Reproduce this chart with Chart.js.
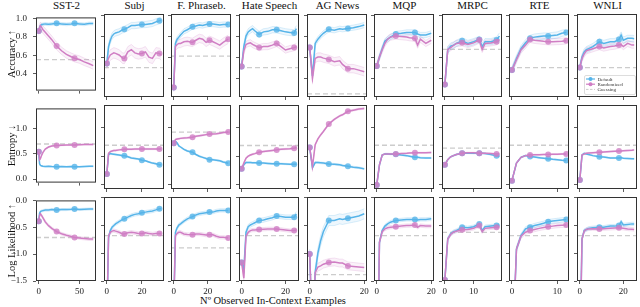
<!DOCTYPE html>
<html lang="en">
<head>
<meta charset="utf-8">
<title>In-context examples</title>
<script src="https://cdn.jsdelivr.net/npm/chart.js@4.4.1/dist/chart.umd.min.js"></script>
<style>
  html, body { margin: 0; padding: 0; background: #fff; }
  #figure { position: relative; width: 640px; height: 307px; overflow: hidden;
            font-family: "Liberation Serif", "DejaVu Serif", serif; color: #111; }
  #figure canvas { position: absolute; }
  .colTitle { position: absolute; top: -1px; height: 13px; line-height: 13px; font-size: 11px;
              text-align: center; white-space: nowrap; }
  #xLabel { position: absolute; left: 173px; width: 200px; top: 295px; font-size: 10.5px;
            text-align: center; white-space: nowrap; }
</style>
</head>
<body>
<div id="figure"></div>
<script>
// ---- Données ----
const A_titles = ["SST-2", "Subj", "F. Phraseb.", "Hate Speech", "AG News", "MQP", "MRPC", "RTE", "WNLI"];
const A_rowLabels = ["Accuracy ↑", "Entropy ↓", "Log Likelihood ↑"];
const A_yTicks = [[0.4, 0.6, 0.8, 1.0], [0, 0.5, 1.0], [-1.5, -1.0, -0.5, 0.0]];
const A_xTicks = [[0, 50], [0, 20], [0, 20], [0, 20], [0, 20], [0, 20], [0, 10], [0, 10], [0, 20]];

// SST-2
const A_sst2X = [0, 1, 2, 3, 5, 8, 12, 16, 22, 28, 34, 40, 44, 50, 56, 62, 67];
const A_sst2AccDef = [0.864, 0.90, 0.92, 0.93, 0.935, 0.94, 0.935, 0.94, 0.946, 0.94, 0.935, 0.94, 0.946, 0.94, 0.935, 0.945, 0.943];
const A_sst2AccRnd = [0.864, 0.90, 0.92, 0.91, 0.88, 0.85, 0.81, 0.77, 0.70, 0.65, 0.61, 0.585, 0.57, 0.555, 0.53, 0.51, 0.49];
const A_sst2EntDef = [0.535, 0.30, 0.27, 0.26, 0.25, 0.245, 0.25, 0.245, 0.24, 0.245, 0.24, 0.245, 0.24, 0.24, 0.245, 0.25, 0.25];
const A_sst2EntRnd = [0.535, 0.38, 0.40, 0.45, 0.52, 0.59, 0.63, 0.65, 0.66, 0.665, 0.67, 0.67, 0.67, 0.675, 0.68, 0.68, 0.68];
const A_sst2LlDef = [-0.39, -0.24, -0.21, -0.20, -0.19, -0.18, -0.18, -0.17, -0.18, -0.17, -0.17, -0.165, -0.16, -0.17, -0.165, -0.16, -0.16];
const A_sst2LlRnd = [-0.39, -0.28, -0.25, -0.27, -0.32, -0.40, -0.47, -0.52, -0.58, -0.62, -0.65, -0.67, -0.69, -0.70, -0.71, -0.72, -0.72];

// Subj
const A_subjX = [0, 1, 2, 3, 4, 5, 7, 9, 10, 12, 14, 16, 18, 20, 22, 24, 26, 28, 30, 31];
const A_subjAccDef = [0.54, 0.70, 0.76, 0.80, 0.82, 0.83, 0.84, 0.86, 0.864, 0.88, 0.90, 0.90, 0.905, 0.91, 0.91, 0.915, 0.92, 0.935, 0.946, 0.95];
const A_subjAccRnd = [0.54, 0.59, 0.62, 0.63, 0.64, 0.635, 0.62, 0.59, 0.587, 0.65, 0.67, 0.64, 0.63, 0.635, 0.65, 0.60, 0.587, 0.64, 0.635, 0.62];
const A_subjEntDef = [0.19, 0.53, 0.545, 0.54, 0.535, 0.53, 0.52, 0.51, 0.51, 0.49, 0.47, 0.46, 0.45, 0.43, 0.42, 0.40, 0.38, 0.37, 0.35, 0.35];
const A_subjEntRnd = [0.19, 0.55, 0.58, 0.59, 0.60, 0.60, 0.61, 0.615, 0.62, 0.62, 0.62, 0.625, 0.625, 0.625, 0.625, 0.625, 0.625, 0.625, 0.625, 0.625];
const A_subjLlDef = [-2.2, -0.72, -0.60, -0.54, -0.51, -0.48, -0.44, -0.40, -0.39, -0.36, -0.33, -0.31, -0.30, -0.28, -0.27, -0.26, -0.25, -0.23, -0.21, -0.21];
const A_subjLlRnd = [-2.2, -0.70, -0.63, -0.61, -0.60, -0.61, -0.63, -0.66, -0.66, -0.64, -0.63, -0.64, -0.65, -0.65, -0.64, -0.65, -0.66, -0.65, -0.65, -0.65];

// F. Phrasebank
const A_fpX = [0, 1, 2, 3, 4, 6, 8, 11, 13, 15, 17, 19, 21, 23, 25, 27, 29, 32];
const A_fpAccDef = [0.31, 0.73, 0.77, 0.79, 0.81, 0.845, 0.86, 0.889, 0.895, 0.905, 0.90, 0.91, 0.914, 0.914, 0.91, 0.905, 0.91, 0.91];
const A_fpAccRnd = [0.31, 0.70, 0.72, 0.73, 0.73, 0.745, 0.75, 0.74, 0.76, 0.778, 0.77, 0.74, 0.76, 0.746, 0.73, 0.714, 0.74, 0.77];
const A_fpEntDef = [0.727, 0.76, 0.73, 0.68, 0.66, 0.62, 0.59, 0.57, 0.53, 0.50, 0.48, 0.46, 0.44, 0.44, 0.43, 0.42, 0.40, 0.378];
const A_fpEntRnd = [0.727, 0.79, 0.80, 0.805, 0.81, 0.815, 0.82, 0.83, 0.845, 0.855, 0.865, 0.875, 0.885, 0.885, 0.89, 0.90, 0.91, 0.92];
const A_fpLlDef = [-2.0, -0.63, -0.55, -0.50, -0.48, -0.43, -0.39, -0.35, -0.32, -0.30, -0.29, -0.28, -0.27, -0.27, -0.25, -0.24, -0.24, -0.24];
const A_fpLlRnd = [-2.0, -0.69, -0.65, -0.63, -0.63, -0.66, -0.67, -0.675, -0.66, -0.66, -0.67, -0.68, -0.675, -0.675, -0.70, -0.72, -0.72, -0.73];

// Hate Speech
const A_hateX = [0, 1, 2, 3, 4, 5, 6, 8, 10, 12, 14, 16, 18, 20, 22, 24, 25];
const A_hateAccDef = [0.51, 0.70, 0.80, 0.84, 0.857, 0.87, 0.85, 0.816, 0.84, 0.845, 0.86, 0.86, 0.85, 0.84, 0.835, 0.83, 0.87];
const A_hateAccRnd = [0.51, 0.66, 0.72, 0.73, 0.736, 0.72, 0.71, 0.69, 0.70, 0.70, 0.714, 0.73, 0.70, 0.667, 0.68, 0.69, 0.70];
const A_hateEntDef = [0.28, 0.35, 0.39, 0.39, 0.39, 0.385, 0.385, 0.38, 0.38, 0.375, 0.37, 0.37, 0.37, 0.365, 0.36, 0.36, 0.36];
const A_hateEntRnd = [0.28, 0.38, 0.466, 0.50, 0.52, 0.535, 0.545, 0.57, 0.58, 0.59, 0.60, 0.61, 0.62, 0.625, 0.63, 0.64, 0.65];
const A_hateLlDef = [-1.17, -1.3, -0.63, -0.53, -0.50, -0.48, -0.46, -0.42, -0.41, -0.39, -0.37, -0.34, -0.35, -0.36, -0.36, -0.36, -0.30];
const A_hateLlRnd = [-1.17, -1.45, -0.70, -0.63, -0.60, -0.59, -0.59, -0.58, -0.575, -0.57, -0.57, -0.57, -0.58, -0.59, -0.60, -0.60, -0.59];

// AG News
const A_agX = [0, 1, 2, 3, 4, 5, 7, 9, 11, 12, 14, 16, 18, 20];
const A_agAccDef = [0.69, 0.42, 0.73, 0.77, 0.80, 0.826, 0.864, 0.855, 0.87, 0.865, 0.873, 0.88, 0.89, 0.905];
const A_agAccRnd = [0.69, 0.40, 0.587, 0.60, 0.60, 0.59, 0.578, 0.555, 0.565, 0.53, 0.49, 0.49, 0.476, 0.46];
const A_agEntDef = [0.65, 0.30, 0.39, 0.39, 0.385, 0.38, 0.366, 0.36, 0.35, 0.34, 0.325, 0.31, 0.30, 0.28];
const A_agEntRnd = [0.65, 0.32, 0.70, 0.80, 0.87, 0.93, 1.06, 1.14, 1.20, 1.22, 1.28, 1.30, 1.32, 1.33];
const A_agLlDef = [-1.02, -2.5, -1.35, -1.0, -0.78, -0.62, -0.42, -0.42, -0.39, -0.40, -0.38, -0.36, -0.34, -0.30];
const A_agLlRnd = [-1.02, -2.5, -1.35, -1.25, -1.23, -1.20, -1.17, -1.16, -1.18, -1.18, -1.23, -1.24, -1.25, -1.26];

// MQP
const A_mqpX = [0, 1, 2, 3, 4, 5, 7, 9, 11, 12, 14, 15, 16, 18, 20];
const A_mqpAccDef = [0.514, 0.60, 0.68, 0.75, 0.77, 0.79, 0.82, 0.826, 0.835, 0.835, 0.835, 0.82, 0.81, 0.81, 0.826];
const A_mqpAccRnd = [0.514, 0.60, 0.67, 0.73, 0.77, 0.79, 0.80, 0.795, 0.79, 0.785, 0.778, 0.714, 0.77, 0.73, 0.76];
const A_mqpEntDef = [0.0, 0.35, 0.52, 0.54, 0.54, 0.535, 0.535, 0.52, 0.51, 0.50, 0.48, 0.48, 0.475, 0.47, 0.47];
const A_mqpEntRnd = [0.0, 0.35, 0.52, 0.54, 0.54, 0.54, 0.54, 0.545, 0.55, 0.555, 0.56, 0.56, 0.56, 0.56, 0.565];
const A_mqpLlDef = [-4.0, -0.81, -0.60, -0.52, -0.48, -0.45, -0.42, -0.41, -0.40, -0.40, -0.40, -0.41, -0.40, -0.40, -0.39];
const A_mqpLlRnd = [-4.0, -0.81, -0.62, -0.57, -0.55, -0.54, -0.53, -0.52, -0.51, -0.51, -0.50, -0.54, -0.51, -0.52, -0.52];

// MRPC
const A_mrpcX = [0, 1, 2, 3, 4, 6, 8, 10, 12, 13, 14, 16, 18, 19];
const A_mrpcAccDef = [0.34, 0.67, 0.705, 0.714, 0.73, 0.755, 0.73, 0.746, 0.768, 0.70, 0.746, 0.746, 0.762, 0.80];
const A_mrpcAccRnd = [0.34, 0.67, 0.69, 0.71, 0.73, 0.736, 0.72, 0.735, 0.762, 0.673, 0.73, 0.735, 0.746, 0.765];
const A_mrpcEntDef = [0.35, 0.44, 0.49, 0.51, 0.53, 0.553, 0.555, 0.55, 0.553, 0.55, 0.545, 0.53, 0.506, 0.50];
const A_mrpcEntRnd = [0.35, 0.44, 0.49, 0.51, 0.53, 0.553, 0.56, 0.56, 0.553, 0.55, 0.55, 0.545, 0.54, 0.54];
const A_mrpcLlDef = [-1.48, -0.75, -0.66, -0.62, -0.60, -0.54, -0.55, -0.53, -0.48, -0.60, -0.53, -0.52, -0.51, -0.50];
const A_mrpcLlRnd = [-1.48, -0.75, -0.67, -0.63, -0.61, -0.585, -0.58, -0.56, -0.51, -0.62, -0.56, -0.55, -0.54, -0.53];

// RTE
const A_rteX = [0, 1, 2, 3, 4, 5, 6, 7, 8, 9, 10, 11, 12];
const A_rteAccDef = [0.476, 0.587, 0.68, 0.736, 0.778, 0.79, 0.795, 0.80, 0.80, 0.805, 0.81, 0.826, 0.835];
const A_rteAccRnd = [0.476, 0.575, 0.667, 0.714, 0.768, 0.76, 0.755, 0.75, 0.746, 0.746, 0.748, 0.75, 0.755];
const A_rteEntDef = [0.075, 0.38, 0.48, 0.51, 0.494, 0.485, 0.475, 0.465, 0.454, 0.445, 0.44, 0.43, 0.425];
const A_rteEntRnd = [0.075, 0.38, 0.48, 0.51, 0.52, 0.525, 0.525, 0.53, 0.53, 0.535, 0.535, 0.54, 0.54];
const A_rteLlDef = [-3.0, -0.93, -0.69, -0.57, -0.54, -0.51, -0.49, -0.47, -0.44, -0.43, -0.42, -0.41, -0.40];
const A_rteLlRnd = [-3.0, -0.93, -0.70, -0.63, -0.60, -0.58, -0.56, -0.545, -0.53, -0.52, -0.51, -0.505, -0.50];

// WNLI
const A_wnliX = [0, 1, 2, 3, 4, 6, 9, 11, 14, 16, 18, 19, 20, 22, 24, 25];
const A_wnliAccDef = [0.50, 0.60, 0.65, 0.67, 0.68, 0.70, 0.746, 0.73, 0.746, 0.746, 0.768, 0.81, 0.76, 0.778, 0.778, 0.775];
const A_wnliAccRnd = [0.50, 0.587, 0.63, 0.66, 0.667, 0.68, 0.70, 0.686, 0.70, 0.705, 0.714, 0.72, 0.70, 0.73, 0.714, 0.714];
const A_wnliEntDef = [0.087, 0.52, 0.55, 0.54, 0.53, 0.51, 0.49, 0.485, 0.47, 0.47, 0.47, 0.475, 0.465, 0.46, 0.455, 0.454];
const A_wnliEntRnd = [0.087, 0.52, 0.54, 0.55, 0.555, 0.56, 0.57, 0.575, 0.58, 0.585, 0.59, 0.59, 0.595, 0.60, 0.605, 0.61];
const A_wnliLlDef = [-3.0, -0.75, -0.60, -0.58, -0.56, -0.55, -0.54, -0.54, -0.52, -0.52, -0.51, -0.44, -0.50, -0.49, -0.48, -0.48];
const A_wnliLlRnd = [-3.0, -0.75, -0.61, -0.58, -0.57, -0.565, -0.57, -0.565, -0.56, -0.555, -0.55, -0.555, -0.56, -0.57, -0.575, -0.58];

// Points marqués (valeurs de x) par colonne
const A_markX = [[0, 22, 44], [0, 10, 20, 30], [0, 11, 21, 32], [0, 8, 16, 24], [0, 7, 14], [0, 7, 14], [0, 6, 12, 18], [0, 4, 8, 12], [0, 9, 18]];

// Niveau "Guessing" par colonne
const A_guessAcc = [0.555, 0.50, 0.61, 0.50, 0.25, 0.50, 0.673, 0.50, 0.50];
const A_guessEnt = [0.69, 0.69, 0.92, 0.686, 1.386, 0.69, 0.64, 0.69, 0.69];
const A_guessLl = [-0.69, -0.69, -0.91, -0.69, -1.386, -0.69, -0.63, -0.69, -0.69];

// Demi-largeur des bandes d'incertitude par colonne
const A_accSpreadDef = [0.015, 0.03, 0.025, 0.03, 0.025, 0.025, 0.03, 0.03, 0.03];
const A_accSpreadRnd = [0.04, 0.05, 0.04, 0.03, 0.04, 0.03, 0.03, 0.03, 0.03];
const A_entSpreadDef = [0.01, 0.012, 0.012, 0.012, 0.015, 0.01, 0.01, 0.01, 0.01];
const A_entSpreadRnd = [0.01, 0.012, 0.012, 0.012, 0.015, 0.01, 0.01, 0.01, 0.01];
const A_llSpreadDef = [0.02, 0.03, 0.03, 0.04, 0.09, 0.03, 0.03, 0.04, 0.03];
const A_llSpreadRnd = [0.025, 0.03, 0.03, 0.03, 0.07, 0.03, 0.03, 0.04, 0.03];

// ---- Assemblage ----
const A_columns = [
  { A_x: A_sst2X, A_rows: [[A_sst2AccDef, A_sst2AccRnd], [A_sst2EntDef, A_sst2EntRnd], [A_sst2LlDef, A_sst2LlRnd]] },
  { A_x: A_subjX, A_rows: [[A_subjAccDef, A_subjAccRnd], [A_subjEntDef, A_subjEntRnd], [A_subjLlDef, A_subjLlRnd]] },
  { A_x: A_fpX, A_rows: [[A_fpAccDef, A_fpAccRnd], [A_fpEntDef, A_fpEntRnd], [A_fpLlDef, A_fpLlRnd]] },
  { A_x: A_hateX, A_rows: [[A_hateAccDef, A_hateAccRnd], [A_hateEntDef, A_hateEntRnd], [A_hateLlDef, A_hateLlRnd]] },
  { A_x: A_agX, A_rows: [[A_agAccDef, A_agAccRnd], [A_agEntDef, A_agEntRnd], [A_agLlDef, A_agLlRnd]] },
  { A_x: A_mqpX, A_rows: [[A_mqpAccDef, A_mqpAccRnd], [A_mqpEntDef, A_mqpEntRnd], [A_mqpLlDef, A_mqpLlRnd]] },
  { A_x: A_mrpcX, A_rows: [[A_mrpcAccDef, A_mrpcAccRnd], [A_mrpcEntDef, A_mrpcEntRnd], [A_mrpcLlDef, A_mrpcLlRnd]] },
  { A_x: A_rteX, A_rows: [[A_rteAccDef, A_rteAccRnd], [A_rteEntDef, A_rteEntRnd], [A_rteLlDef, A_rteLlRnd]] },
  { A_x: A_wnliX, A_rows: [[A_wnliAccDef, A_wnliAccRnd], [A_wnliEntDef, A_wnliEntRnd], [A_wnliLlDef, A_wnliLlRnd]] },
];
const A_guess = [A_guessAcc, A_guessEnt, A_guessLl];
const A_spread = [[A_accSpreadDef, A_accSpreadRnd], [A_entSpreadDef, A_entSpreadRnd], [A_llSpreadDef, A_llSpreadRnd]];

// ---- Mise en page ----
const A_boxLeft = [36, 104, 171, 239, 307, 374, 442, 509, 577];
const N_boxW = 61;
const A_boxTop = [14, 105, 197];
const A_boxH = [83, 84, 84];
const A_yRange = [[0.22, 1.01], [-0.07, 1.39], [-1.5, 0.0]];
const A_xRange = [[-3.4, 70.4], [-1.6, 32.6], [-1.6, 33.6], [-1.2, 26.2], [-1, 21], [-1, 21], [-1, 19.9], [-0.65, 12.6], [-1.3, 26.3]];

const S_serif = '"Liberation Serif", "DejaVu Serif", serif';
const A_blue = [86, 180, 233];
const A_pink = [208, 126, 196];
const S_guessColor = "#cccccc";
const S_axisColor = "#333333";

/**
 * Couleur rgba à partir d'un triplet.
 */
function F_rgba(A_rgb, N_a) {
  return "rgba(" + A_rgb[0] + "," + A_rgb[1] + "," + A_rgb[2] + "," + N_a + ")";
}

function F_fmt(N_v) {
  return N_v.toFixed(1).replace("-", "\u2212");
}

// Cadre complet autour de la zone de tracé
const O_framePlugin = {
  id: "cadre",
  afterDatasetsDraw(O_chart) {
    const O_ctx = O_chart.ctx;
    const O_a = O_chart.chartArea;
    O_ctx.save();
    O_ctx.strokeStyle = S_axisColor;
    O_ctx.lineWidth = 1;
    O_ctx.strokeRect(O_a.left + 0.5, O_a.top + 0.5, O_a.right - O_a.left - 1, O_a.bottom - O_a.top - 1);
    O_ctx.restore();
  },
};

// Légende encadrée (panneau WNLI, première ligne)
const O_legendPlugin = {
  id: "legendeBoite",
  afterDraw(O_chart) {
    const O_ctx = O_chart.ctx;
    const O_a = O_chart.chartArea;
    const N_x0 = O_a.right - 53;
    const N_y0 = O_a.bottom - 22;
    O_ctx.save();
    O_ctx.fillStyle = "rgba(255,255,255,0.85)";
    O_ctx.strokeStyle = "#d4d4d4";
    O_ctx.lineWidth = 0.8;
    O_ctx.beginPath();
    O_ctx.roundRect(N_x0 + 0.5, N_y0 + 0.5, 51, 19, 1.5);
    O_ctx.fill();
    O_ctx.stroke();
    const A_items = [
      { S_label: "Default", S_color: F_rgba(A_blue, 1), B_mark: true },
      { S_label: "Randomized", S_color: F_rgba(A_pink, 1), B_mark: true },
      { S_label: "Guessing", S_color: S_guessColor, B_mark: false },
    ];
    A_items.forEach((O_item, I_i) => {
      const N_y = N_y0 + 4 + I_i * 5.2;
      O_ctx.strokeStyle = O_item.S_color;
      O_ctx.lineWidth = O_item.B_mark ? 1.2 : 1;
      O_ctx.setLineDash(O_item.B_mark ? [] : [2.5, 1.5]);
      O_ctx.beginPath();
      O_ctx.moveTo(N_x0 + 2, N_y);
      O_ctx.lineTo(N_x0 + 11, N_y);
      O_ctx.stroke();
      if (O_item.B_mark) {
        O_ctx.fillStyle = O_item.S_color;
        O_ctx.beginPath();
        O_ctx.arc(N_x0 + 6.5, N_y, 2, 0, Math.PI * 2);
        O_ctx.fill();
      }
      O_ctx.fillStyle = "#333";
      O_ctx.font = "5px " + S_serif;
      O_ctx.textBaseline = "middle";
      O_ctx.fillText(O_item.S_label, N_x0 + 13.5, N_y + 0.3);
    });
    O_ctx.restore();
  },
};

/**
 * Bande d'incertitude : deux traits fins et un remplissage léger.
 */
function F_bandDatasets(A_x, A_y, N_s, A_rgb) {
  const A_hi = A_x.map((N_x, I_i) => ({ x: N_x, y: A_y[I_i] + N_s }));
  const A_lo = A_x.map((N_x, I_i) => ({ x: N_x, y: A_y[I_i] - N_s }));
  return [
    { data: A_hi, borderColor: F_rgba(A_rgb, 0.35), borderWidth: 0.6, pointRadius: 0, fill: false, order: 5 },
    { data: A_lo, borderColor: F_rgba(A_rgb, 0.35), borderWidth: 0.6, pointRadius: 0, fill: "-1",
      backgroundColor: F_rgba(A_rgb, 0.1), order: 5 },
  ];
}

function F_meanDataset(A_x, A_y, A_rgb, A_mark, I_order) {
  return {
    data: A_x.map((N_x, I_i) => ({ x: N_x, y: A_y[I_i] })),
    borderColor: F_rgba(A_rgb, 1),
    borderWidth: 1.5,
    pointRadius: (O_c) => (O_c.raw && A_mark.includes(O_c.raw.x) ? 3 : 0),
    pointBackgroundColor: F_rgba(A_rgb, 0.8),
    pointBorderWidth: 0,
    fill: false,
    order: I_order,
  };
}

function F_createPanel(I_row, I_col) {
  const O_col = A_columns[I_col];
  const N_padL = I_col === 0 ? 36 : 5;
  const N_padT = 8;
  const N_padR = 3;
  const N_padB = I_row === 2 ? 16 : 5;
  const N_boxH = A_boxH[I_row];

  const O_canvas = document.createElement("canvas");
  O_canvas.width = N_boxW + N_padL + N_padR;
  O_canvas.height = N_boxH + N_padT + N_padB;
  O_canvas.style.left = A_boxLeft[I_col] - N_padL + "px";
  O_canvas.style.top = A_boxTop[I_row] - N_padT + "px";
  document.getElementById("figure").appendChild(O_canvas);

  const A_def = O_col.A_rows[I_row][0];
  const A_rnd = O_col.A_rows[I_row][1];
  const N_xMin = A_xRange[I_col][0];
  const N_xMax = A_xRange[I_col][1];
  const N_g = A_guess[I_row][I_col];

  const A_datasets = [
    { data: [{ x: N_xMin, y: N_g }, { x: N_xMax, y: N_g }], borderColor: S_guessColor, borderWidth: 1.3,
      borderDash: [5, 3], pointRadius: 0, fill: false, order: 10 },
    ...F_bandDatasets(O_col.A_x, A_def, A_spread[I_row][0][I_col], A_blue),
    ...F_bandDatasets(O_col.A_x, A_rnd, A_spread[I_row][1][I_col], A_pink),
    F_meanDataset(O_col.A_x, A_def, A_blue, A_markX[I_col], 2),
    F_meanDataset(O_col.A_x, A_rnd, A_pink, A_markX[I_col], 1),
  ];

  const O_tickFont = { family: S_serif, size: 9 };
  const O_grid = { display: true, drawOnChartArea: false, drawTicks: true, tickLength: 3,
                   tickColor: S_axisColor, tickWidth: 0.8 };

  const A_plugins = [O_framePlugin];
  if (I_row === 0 && I_col === 8) A_plugins.push(O_legendPlugin);

  new Chart(O_canvas, {
    type: "line",
    data: { datasets: A_datasets },
    plugins: A_plugins,
    options: {
      animation: false,
      responsive: false,
      devicePixelRatio: 1,
      events: [],
      layout: { padding: { top: N_padT, right: N_padR, left: 0, bottom: 0 } },
      plugins: { legend: { display: false }, tooltip: { enabled: false } },
      scales: {
        x: {
          type: "linear",
          min: N_xMin,
          max: N_xMax,
          afterBuildTicks: (O_s) => { O_s.ticks = A_xTicks[I_col].map((N_v) => ({ value: N_v })); },
          afterFit: (O_s) => { O_s.height = N_padB; },
          ticks: { display: I_row === 2, padding: 2, font: O_tickFont, color: "#222", maxRotation: 0,
                   callback: (N_v) => String(N_v) },
          grid: O_grid,
          border: { display: false },
        },
        y: {
          type: "linear",
          min: A_yRange[I_row][0],
          max: A_yRange[I_row][1],
          afterBuildTicks: (O_s) => { O_s.ticks = A_yTicks[I_row].map((N_v) => ({ value: N_v })); },
          afterFit: (O_s) => { O_s.width = N_padL; },
          ticks: { display: I_col === 0, padding: 6, font: O_tickFont, color: "#222",
                   callback: (N_v) => F_fmt(N_v) },
          grid: O_grid,
          border: { display: false },
          title: { display: I_col === 0, text: A_rowLabels[I_row], color: "#111",
                   font: { family: S_serif, size: 10.5 }, padding: { top: 6, bottom: 0 } },
        },
      },
    },
  });
}

// Titres de colonnes et légende de l'axe x
const O_fig = document.getElementById("figure");
A_titles.forEach((S_t, I_c) => {
  const O_div = document.createElement("div");
  O_div.className = "colTitle";
  O_div.style.left = A_boxLeft[I_c] - 10 + "px";
  O_div.style.width = N_boxW + 20 + "px";
  O_div.textContent = S_t;
  O_fig.appendChild(O_div);
});
const O_xl = document.createElement("div");
O_xl.id = "xLabel";
O_xl.textContent = "Nº Observed In-Context Examples";
O_fig.appendChild(O_xl);

for (let I_row = 0; I_row < 3; I_row++) {
  for (let I_col = 0; I_col < 9; I_col++) {
    F_createPanel(I_row, I_col);
  }
}
</script>
</body>
</html>
